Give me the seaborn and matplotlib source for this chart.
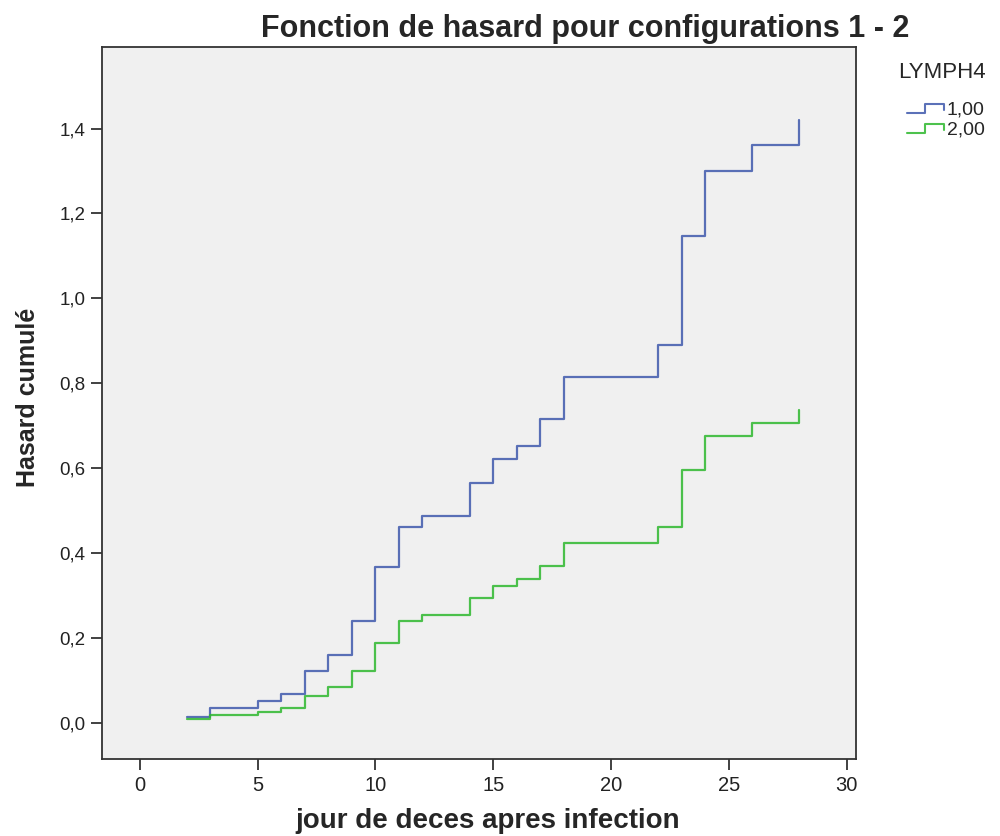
import matplotlib
matplotlib.use("Agg")
import matplotlib.pyplot as plt
from matplotlib.lines import Line2D
from matplotlib.ticker import FuncFormatter
import numpy as np
import pandas as pd
import seaborn as sns

# Event times (days) and cumulative hazard for each LYMPH4 group
times = [2, 3, 5, 6, 7, 8, 9, 10, 11, 12, 14, 15, 16, 17, 18, 22, 23, 24, 26, 28]
hazard_1 = [0.014, 0.035, 0.052, 0.068, 0.122, 0.160, 0.239, 0.367, 0.462, 0.488,
            0.565, 0.622, 0.652, 0.716, 0.815, 0.889, 1.146, 1.300, 1.361, 1.420]
hazard_2 = [0.009, 0.019, 0.025, 0.035, 0.064, 0.085, 0.123, 0.189, 0.239, 0.253,
            0.294, 0.323, 0.339, 0.370, 0.424, 0.462, 0.596, 0.676, 0.707, 0.737]
groups = ["1,00", "2,00"]
colors = ["#3e58ac", "#2eb82e"]

title = "Fonction de hasard pour configurations 1 - 2"
xlabel = "jour de deces apres infection"
ylabel = "Hasard cumulé"
legend_title = "LYMPH4"
xticks = [0, 5, 10, 15, 20, 25, 30]
yticks = [0.0, 0.2, 0.4, 0.6, 0.8, 1.0, 1.2, 1.4]

df = pd.DataFrame({
    "jour": times * 2,
    "hasard": hazard_1 + hazard_2,
    "LYMPH4": [groups[0]] * len(times) + [groups[1]] * len(times),
})

sns.set_style("white")
plt.rcParams["font.family"] = ["Liberation Sans", "DejaVu Sans"]

W, H = 1000, 836
fig = plt.figure(figsize=(W / 100, H / 100), dpi=100)
ax = fig.add_axes([0.102, 0.0921, 0.754, 0.8517])
ax.set_facecolor("#f0f0f0")

sns.lineplot(data=df, x="jour", y="hasard", hue="LYMPH4", hue_order=groups,
             palette=colors, estimator=None, drawstyle="steps-post",
             linewidth=1.6, alpha=0.85, legend=False, ax=ax)

ax.set_xlim(-1.6, 30.4)
ax.set_ylim(-0.085, 1.592)
ax.set_xticks(xticks)
ax.set_yticks(yticks)
ax.yaxis.set_major_formatter(FuncFormatter(lambda v, p: f"{v:.1f}".replace(".", ",")))
ax.tick_params(axis="both", direction="out", length=8, width=1.3, color="#333333",
               labelcolor="#222222", pad=4, bottom=True, left=True)
ax.tick_params(axis="x", labelsize=14.5)
ax.tick_params(axis="y", labelsize=13.5)
for s in ax.spines.values():
    s.set_color("#333333")
    s.set_linewidth(1.3)

ax.set_xlabel(xlabel, fontsize=20, fontweight="bold", va="baseline", ha="center")
ax.xaxis.set_label_coords((488 - 102) / 754, -(828 - 759) / 712)
ax.set_ylabel(ylabel, fontsize=18, fontweight="bold", va="center", ha="center")
ax.yaxis.set_label_coords((28 - 102) / 754, (759 - 397) / 712)

fig.text(585 / W, 1 - 37 / H, title, ha="center", va="baseline",
         fontsize=22, fontweight="bold")

# Legend with step-shaped keys
fig.text(898 / W, 1 - 72 / H, legend_title, ha="left", va="center", fontsize=16)
for i, (g, c) in enumerate(zip(groups, colors)):
    y_lo = 1 - (113 + 20 * i) / H
    y_hi = 1 - (104 + 20 * i) / H
    y_end = 1 - (110 + 20 * i) / H
    xs = np.array([907, 925, 925, 944, 944]) / W
    ys = np.array([y_lo, y_lo, y_hi, y_hi, y_end])
    fig.add_artist(Line2D(xs, ys, color=c, linewidth=1.5, alpha=0.85,
                          transform=fig.transFigure))
    fig.text(947 / W, 1 - (110 + 20 * i) / H, g, ha="left", va="center", fontsize=14)

fig.savefig("out.png", dpi=100)
